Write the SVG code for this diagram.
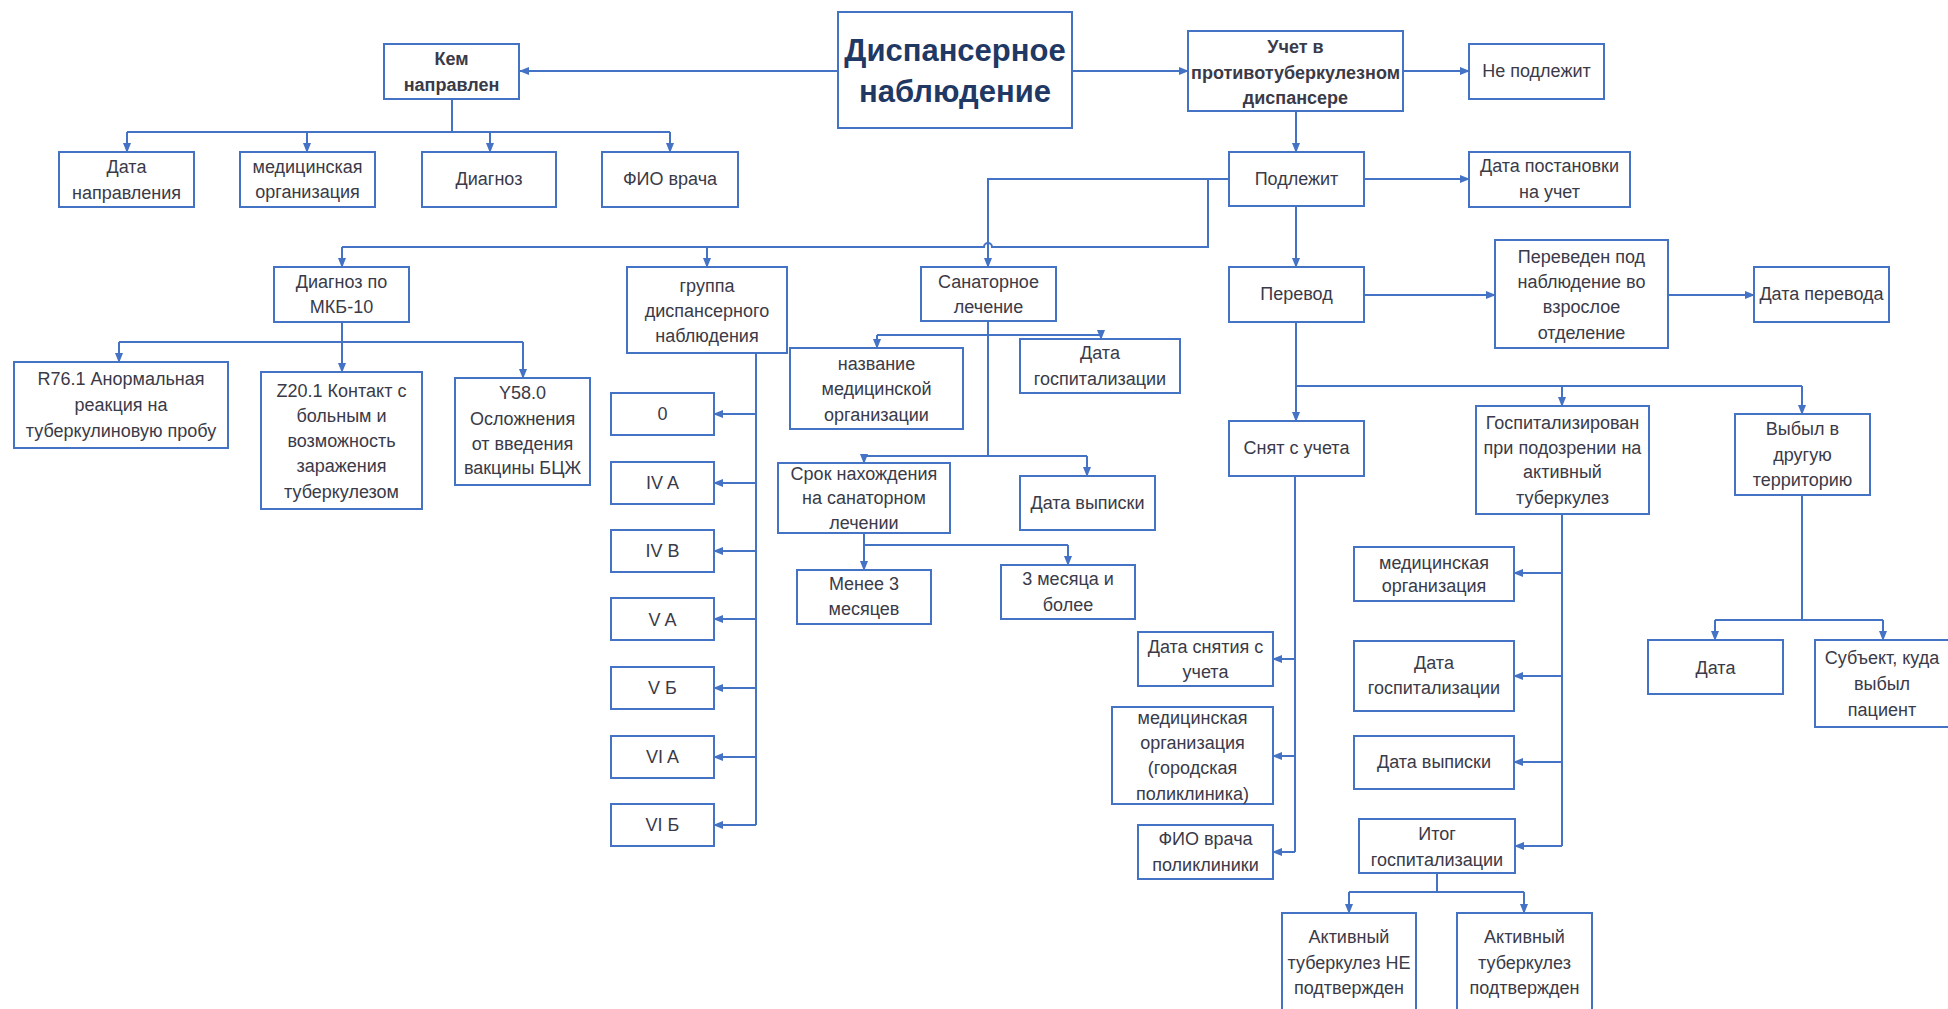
<svg xmlns="http://www.w3.org/2000/svg" width="1948" height="1009" viewBox="0 0 1948 1009">
  <style>
    .b { fill: #ffffff; stroke: #4472C4; stroke-width: 2; }
    .t { font-family: "Liberation Sans", Arial, sans-serif; font-size: 18px; fill: #3a3a48; text-anchor: middle; dominant-baseline: central; }
    .bd { font-weight: bold; }
    .ttl { font-family: "Liberation Sans", Arial, sans-serif; font-size: 31px; font-weight: bold; fill: #1F3864; text-anchor: middle; dominant-baseline: central; }
    .c { fill: none; stroke: #4472C4; stroke-width: 2; }
    .a { marker-end: url(#ah); }
  </style>
  <defs>
    <marker id="ah" markerWidth="10" markerHeight="10" refX="9" refY="5" orient="auto" markerUnits="userSpaceOnUse">
      <path d="M0,1 L10,5 L0,9 z" fill="#4472C4"/>
    </marker>
  </defs>
  <rect width="1948" height="1009" fill="#ffffff"/>

  <!-- connectors -->
  <g id="connectors">
    <!-- root -->
    <path class="c a" d="M838,71 H520"/>
    <path class="c a" d="M1072,71 H1188"/>
    <path class="c a" d="M1403,71 H1469"/>
    <path class="c a" d="M1296,111 V152"/>
    <!-- referral -->
    <path class="c" d="M452,99 V132"/>
    <path class="c" d="M127,132 H670"/>
    <path class="c a" d="M127,132 V152"/>
    <path class="c a" d="M307,132 V152"/>
    <path class="c a" d="M490,132 V152"/>
    <path class="c a" d="M670,132 V152"/>
    <!-- registered -->
    <path class="c a" d="M1364,179 H1469"/>
    <path class="c a" d="M1229,179 H988 V267"/>
    <path class="c" d="M1208,179 V247 H992 A4,4 0 0 0 984,247 H342"/>
    <path class="c a" d="M342,247 V267"/>
    <path class="c a" d="M707,247 V267"/>
    <path class="c a" d="M1296,206 V267"/>
    <!-- ICD-10 -->
    <path class="c" d="M342,322 V342"/>
    <path class="c" d="M119,342 H523"/>
    <path class="c a" d="M119,342 V362"/>
    <path class="c a" d="M342,342 V372"/>
    <path class="c a" d="M523,342 V378"/>
    <!-- dispensary groups -->
    <path class="c" d="M756,353 V825"/>
    <path class="c a" d="M756,414 H714"/>
    <path class="c a" d="M756,483 H714"/>
    <path class="c a" d="M756,551 H714"/>
    <path class="c a" d="M756,619 H714"/>
    <path class="c a" d="M756,688 H714"/>
    <path class="c a" d="M756,757 H714"/>
    <path class="c a" d="M756,825 H714"/>
    <!-- sanatorium -->
    <path class="c" d="M988,321 V456"/>
    <path class="c" d="M877,335 H1101"/>
    <path class="c a" d="M877,335 V348"/>
    <path class="c a" d="M1101,335 V339"/>
    <path class="c" d="M864,456 H1087"/>
    <path class="c a" d="M864,456 V463"/>
    <path class="c a" d="M1087,456 V476"/>
    <path class="c" d="M864,533 V545 H1068"/>
    <path class="c a" d="M864,545 V570"/>
    <path class="c a" d="M1068,545 V565"/>
    <!-- transfer -->
    <path class="c a" d="M1364,295 H1495"/>
    <path class="c a" d="M1668,295 H1754"/>
    <path class="c a" d="M1296,322 V421"/>
    <path class="c" d="M1296,386 H1802"/>
    <path class="c a" d="M1562,386 V406"/>
    <path class="c a" d="M1802,386 V414"/>
    <!-- deregistered -->
    <path class="c" d="M1295,476 V852"/>
    <path class="c a" d="M1295,659 H1273"/>
    <path class="c a" d="M1295,756 H1273"/>
    <path class="c a" d="M1295,852 H1273"/>
    <!-- hospitalised -->
    <path class="c" d="M1562,514 V846"/>
    <path class="c a" d="M1562,573 H1514"/>
    <path class="c a" d="M1562,676 H1514"/>
    <path class="c a" d="M1562,762 H1514"/>
    <path class="c a" d="M1562,846 H1515"/>
    <path class="c" d="M1437,873 V892"/>
    <path class="c" d="M1349,892 H1524"/>
    <path class="c a" d="M1349,892 V913"/>
    <path class="c a" d="M1524,892 V913"/>
    <!-- moved away -->
    <path class="c" d="M1802,495 V620"/>
    <path class="c" d="M1715,620 H1883"/>
    <path class="c a" d="M1715,620 V640"/>
    <path class="c a" d="M1883,620 V640"/>
  </g>

  <!-- root -->
  <g id="root">
    <rect class="b" x="838" y="12" width="234" height="116"/>
    <text class="ttl" x="955" y="50">Диспансерное</text>
    <text class="ttl" x="955" y="91">наблюдение</text>
  </g>

  <!-- referral branch -->
  <g id="kem">
    <rect class="b" x="384" y="44" width="135" height="55"/>
    <text class="t bd" x="451.5" y="59">Кем</text>
    <text class="t bd" x="451.5" y="85">направлен</text>
  </g>
  <g id="data-napr">
    <rect class="b" x="59" y="152" width="135" height="55"/>
    <text class="t" x="126.5" y="167">Дата</text>
    <text class="t" x="126.5" y="193">направления</text>
  </g>
  <g id="med-org-1">
    <rect class="b" x="240" y="152" width="135" height="55"/>
    <text class="t" x="307.5" y="167">медицинская</text>
    <text class="t" x="307.5" y="192">организация</text>
  </g>
  <g id="diagnoz">
    <rect class="b" x="422" y="152" width="134" height="55"/>
    <text class="t" x="489" y="179">Диагноз</text>
  </g>
  <g id="fio">
    <rect class="b" x="602" y="152" width="136" height="55"/>
    <text class="t" x="670" y="179">ФИО врача</text>
  </g>

  <!-- registration -->
  <g id="uchet">
    <rect class="b" x="1188" y="31" width="215" height="80"/>
    <text class="t bd" x="1295.5" y="47">Учет в</text>
    <text class="t bd" x="1295.5" y="73">противотуберкулезном</text>
    <text class="t bd" x="1295.5" y="98">диспансере</text>
  </g>
  <g id="ne-podl">
    <rect class="b" x="1469" y="44" width="135" height="55"/>
    <text class="t" x="1536.5" y="71">Не подлежит</text>
  </g>
  <g id="podl">
    <rect class="b" x="1229" y="152" width="135" height="54"/>
    <text class="t" x="1296.5" y="179">Подлежит</text>
  </g>
  <g id="data-post">
    <rect class="b" x="1469" y="152" width="161" height="55"/>
    <text class="t" x="1549.5" y="166">Дата постановки</text>
    <text class="t" x="1549.5" y="192">на учет</text>
  </g>

  <!-- ICD-10 -->
  <g id="mkb">
    <rect class="b" x="274" y="267" width="135" height="55"/>
    <text class="t" x="341.5" y="282">Диагноз по</text>
    <text class="t" x="341.5" y="307">МКБ-10</text>
  </g>
  <g id="r76">
    <rect class="b" x="14" y="362" width="214" height="86"/>
    <text class="t" x="121" y="379">R76.1 Анормальная</text>
    <text class="t" x="121" y="405">реакция на</text>
    <text class="t" x="121" y="431">туберкулиновую пробу</text>
  </g>
  <g id="z20">
    <rect class="b" x="261" y="372" width="161" height="137"/>
    <text class="t" x="341.5" y="391">Z20.1 Контакт с</text>
    <text class="t" x="341.5" y="416">больным и</text>
    <text class="t" x="341.5" y="441">возможность</text>
    <text class="t" x="341.5" y="466">заражения</text>
    <text class="t" x="341.5" y="492">туберкулезом</text>
  </g>
  <g id="y58">
    <rect class="b" x="455" y="378" width="135" height="107"/>
    <text class="t" x="522.5" y="393">Y58.0</text>
    <text class="t" x="522.5" y="419">Осложнения</text>
    <text class="t" x="522.5" y="444">от введения</text>
    <text class="t" x="522.5" y="468">вакцины БЦЖ</text>
  </g>

  <!-- dispensary group -->
  <g id="gruppa">
    <rect class="b" x="627" y="267" width="160" height="86"/>
    <text class="t" x="707" y="286">группа</text>
    <text class="t" x="707" y="311">диспансерного</text>
    <text class="t" x="707" y="336">наблюдения</text>
  </g>
  <g id="gr-0">
    <rect class="b" x="611" y="393" width="103" height="42"/>
    <text class="t" x="662.5" y="414">0</text>
  </g>
  <g id="gr-4a">
    <rect class="b" x="611" y="462" width="103" height="42"/>
    <text class="t" x="662.5" y="483">IV A</text>
  </g>
  <g id="gr-4b">
    <rect class="b" x="611" y="530" width="103" height="42"/>
    <text class="t" x="662.5" y="551">IV B</text>
  </g>
  <g id="gr-5a">
    <rect class="b" x="611" y="598" width="103" height="42"/>
    <text class="t" x="662.5" y="620">V A</text>
  </g>
  <g id="gr-5b">
    <rect class="b" x="611" y="667" width="103" height="42"/>
    <text class="t" x="662.5" y="688">V Б</text>
  </g>
  <g id="gr-6a">
    <rect class="b" x="611" y="736" width="103" height="42"/>
    <text class="t" x="662.5" y="757">VI A</text>
  </g>
  <g id="gr-6b">
    <rect class="b" x="611" y="804" width="103" height="42"/>
    <text class="t" x="662.5" y="825">VI Б</text>
  </g>

  <!-- sanatorium -->
  <g id="sanat">
    <rect class="b" x="921" y="267" width="135" height="54"/>
    <text class="t" x="988.5" y="282">Санаторное</text>
    <text class="t" x="988.5" y="307">лечение</text>
  </g>
  <g id="nazv">
    <rect class="b" x="790" y="348" width="173" height="81"/>
    <text class="t" x="876.5" y="364">название</text>
    <text class="t" x="876.5" y="389">медицинской</text>
    <text class="t" x="876.5" y="415">организации</text>
  </g>
  <g id="data-gosp-1">
    <rect class="b" x="1020" y="339" width="160" height="54"/>
    <text class="t" x="1100" y="353">Дата</text>
    <text class="t" x="1100" y="379">госпитализации</text>
  </g>
  <g id="srok">
    <rect class="b" x="778" y="463" width="172" height="70"/>
    <text class="t" x="864" y="474">Срок нахождения</text>
    <text class="t" x="864" y="498">на санаторном</text>
    <text class="t" x="864" y="523">лечении</text>
  </g>
  <g id="vypiska-1">
    <rect class="b" x="1020" y="476" width="135" height="54"/>
    <text class="t" x="1087.5" y="503">Дата выписки</text>
  </g>
  <g id="menee">
    <rect class="b" x="797" y="570" width="134" height="54"/>
    <text class="t" x="864" y="584">Менее 3</text>
    <text class="t" x="864" y="609">месяцев</text>
  </g>
  <g id="tri">
    <rect class="b" x="1001" y="565" width="134" height="54"/>
    <text class="t" x="1068" y="579">3 месяца и</text>
    <text class="t" x="1068" y="605">более</text>
  </g>

  <!-- transfer -->
  <g id="perevod">
    <rect class="b" x="1229" y="267" width="135" height="55"/>
    <text class="t" x="1296.5" y="294">Перевод</text>
  </g>
  <g id="pereveden">
    <rect class="b" x="1495" y="240" width="173" height="108"/>
    <text class="t" x="1581.5" y="257">Переведен под</text>
    <text class="t" x="1581.5" y="282">наблюдение во</text>
    <text class="t" x="1581.5" y="307">взрослое</text>
    <text class="t" x="1581.5" y="333">отделение</text>
  </g>
  <g id="data-perev">
    <rect class="b" x="1754" y="267" width="135" height="55"/>
    <text class="t" x="1821.5" y="294">Дата перевода</text>
  </g>

  <!-- deregistered -->
  <g id="snyat">
    <rect class="b" x="1229" y="421" width="135" height="55"/>
    <text class="t" x="1296.5" y="448">Снят с учета</text>
  </g>
  <g id="data-snyat">
    <rect class="b" x="1138" y="632" width="135" height="54"/>
    <text class="t" x="1205.5" y="647">Дата снятия с</text>
    <text class="t" x="1205.5" y="672">учета</text>
  </g>
  <g id="med-org-pol">
    <rect class="b" x="1112" y="707" width="161" height="97"/>
    <text class="t" x="1192.5" y="718">медицинская</text>
    <text class="t" x="1192.5" y="743">организация</text>
    <text class="t" x="1192.5" y="768">(городская</text>
    <text class="t" x="1192.5" y="794">поликлиника)</text>
  </g>
  <g id="fio-pol">
    <rect class="b" x="1138" y="825" width="135" height="54"/>
    <text class="t" x="1205.5" y="839">ФИО врача</text>
    <text class="t" x="1205.5" y="865">поликлиники</text>
  </g>

  <!-- hospitalised -->
  <g id="gosp">
    <rect class="b" x="1476" y="406" width="173" height="108"/>
    <text class="t" x="1562.5" y="423">Госпитализирован</text>
    <text class="t" x="1562.5" y="448">при подозрении на</text>
    <text class="t" x="1562.5" y="472">активный</text>
    <text class="t" x="1562.5" y="498">туберкулез</text>
  </g>
  <g id="med-org-gosp">
    <rect class="b" x="1354" y="547" width="160" height="54"/>
    <text class="t" x="1434" y="563">медицинская</text>
    <text class="t" x="1434" y="586">организация</text>
  </g>
  <g id="data-gosp-2">
    <rect class="b" x="1354" y="641" width="160" height="70"/>
    <text class="t" x="1434" y="663">Дата</text>
    <text class="t" x="1434" y="688">госпитализации</text>
  </g>
  <g id="vypiska-2">
    <rect class="b" x="1354" y="736" width="160" height="53"/>
    <text class="t" x="1434" y="762">Дата выписки</text>
  </g>
  <g id="itog">
    <rect class="b" x="1359" y="819" width="156" height="54"/>
    <text class="t" x="1437" y="834">Итог</text>
    <text class="t" x="1437" y="860">госпитализации</text>
  </g>
  <g id="akt-ne">
    <rect class="b" x="1282" y="913" width="134" height="110"/>
    <text class="t" x="1349" y="937">Активный</text>
    <text class="t" x="1349" y="963">туберкулез НЕ</text>
    <text class="t" x="1349" y="988">подтвержден</text>
  </g>
  <g id="akt-da">
    <rect class="b" x="1457" y="913" width="135" height="110"/>
    <text class="t" x="1524.5" y="937">Активный</text>
    <text class="t" x="1524.5" y="963">туберкулез</text>
    <text class="t" x="1524.5" y="988">подтвержден</text>
  </g>

  <!-- moved away -->
  <g id="vybyl">
    <rect class="b" x="1735" y="414" width="135" height="81"/>
    <text class="t" x="1802.5" y="429">Выбыл в</text>
    <text class="t" x="1802.5" y="455">другую</text>
    <text class="t" x="1802.5" y="480">территорию</text>
  </g>
  <g id="data">
    <rect class="b" x="1648" y="640" width="135" height="54"/>
    <text class="t" x="1715.5" y="668">Дата</text>
  </g>
  <g id="subj">
    <rect class="b" x="1815" y="640" width="140" height="87"/>
    <text class="t" x="1882" y="658">Субъект, куда</text>
    <text class="t" x="1882" y="684">выбыл</text>
    <text class="t" x="1882" y="710">пациент</text>
  </g>
</svg>
